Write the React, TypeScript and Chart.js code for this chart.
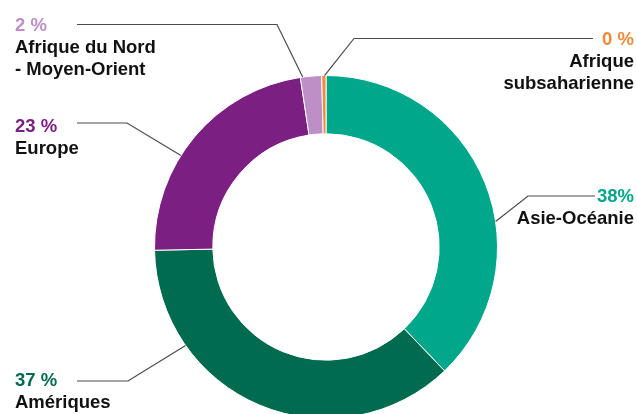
import React, { useEffect, useRef } from "react";
import { Chart, registerables } from "chart.js";

Chart.register(...registerables);

// ---- Data ----
const categoryLines: string[][] = [
  ["Asie-Océanie"],
  ["Amériques"],
  ["Europe"],
  ["Afrique du Nord", "- Moyen-Orient"],
  ["Afrique", "subsaharienne"],
];
const shareValues: number[] = [38, 37, 23, 2, 0.4];
const shareLabels: string[] = ["38%", "37 %", "23 %", "2 %", "0 %"];
const sliceColors: string[] = ["#00A78A", "#006B4F", "#7B2082", "#BE8EC6", "#F08A3A"];

// ---- Label layout (annotation placement) ----
type LabelLayout = {
  align: "left" | "right";
  x: number;
  baseline: number;
  lineY: number;
  lineStartX: number;
  elbowX: number;
  anchorFrac: number;
};
const labelLayout: LabelLayout[] = [
  { align: "right", x: 634, baseline: 201.5, lineY: 196, lineStartX: 595, elbowX: 528, anchorFrac: 0.598 },
  { align: "left", x: 15, baseline: 386, lineY: 381, lineStartX: 77, elbowX: 128, anchorFrac: 0.744 },
  { align: "left", x: 15, baseline: 131.5, lineY: 123, lineStartX: 77, elbowX: 127, anchorFrac: 0.404 },
  { align: "left", x: 15, baseline: 31, lineY: 24.5, lineStartX: 77, elbowX: 277, anchorFrac: 0.11 },
  { align: "right", x: 634, baseline: 45, lineY: 38.5, lineStartX: 593, elbowX: 354, anchorFrac: 0.65 },
];
const LINE_GAP = 22;
const FONT = "bold 18.5px 'Liberation Sans', Arial, sans-serif";

const leaderPlugin = {
  id: "leaderLabels",
  afterDraw(chart: any) {
    const ctx: CanvasRenderingContext2D = chart.ctx;
    const meta = chart.getDatasetMeta(0);
    meta.data.forEach((arc: any, i: number) => {
      const lay = labelLayout[i];
      if (!lay) return;
      const p = arc.getProps(["x", "y", "startAngle", "endAngle", "outerRadius"], true);
      const a = p.startAngle + (p.endAngle - p.startAngle) * lay.anchorFrac;
      const ax = p.x + Math.cos(a) * p.outerRadius;
      const ay = p.y + Math.sin(a) * p.outerRadius;
      ctx.save();
      ctx.strokeStyle = "#4a4a4a";
      ctx.lineWidth = 1.2;
      ctx.beginPath();
      ctx.moveTo(lay.lineStartX, lay.lineY);
      ctx.lineTo(lay.elbowX, lay.lineY);
      ctx.lineTo(ax, ay);
      ctx.stroke();

      ctx.font = FONT;
      ctx.textAlign = lay.align;
      ctx.textBaseline = "alphabetic";
      ctx.fillStyle = sliceColors[i];
      ctx.fillText(shareLabels[i], lay.x, lay.baseline);
      ctx.fillStyle = "#111111";
      categoryLines[i].forEach((t, k) => {
        ctx.fillText(t, lay.x, lay.baseline + LINE_GAP * (k + 1));
      });
      ctx.restore();
    });
  },
};

export default function App() {
  const ref = useRef<HTMLCanvasElement | null>(null);

  useEffect(() => {
    document.body.style.margin = "0";
    const canvas = ref.current;
    if (!canvas) return;
    const chart = new Chart(canvas, {
      type: "doughnut",
      data: {
        labels: categoryLines.map((l) => l.join(" ")),
        datasets: [
          {
            data: shareValues,
            backgroundColor: sliceColors,
            borderColor: "#ffffff",
            borderWidth: 1,
            hoverOffset: 0,
          },
        ],
      },
      options: {
        responsive: false,
        animation: false,
        cutout: "66%",
        radius: 171.5,
        layout: { padding: { left: 15, right: 0, top: 75, bottom: 21 } },
        plugins: {
          legend: { display: false },
          tooltip: { enabled: false },
        },
        events: [],
      },
      plugins: [leaderPlugin],
    });
    return () => chart.destroy();
  }, []);

  return (
    <div style={{ position: "absolute", left: 0, top: 0, width: 637, height: 414, overflow: "hidden", background: "#fff" }}>
      <canvas ref={ref} width={637} height={440} style={{ display: "block" }} />
    </div>
  );
}
